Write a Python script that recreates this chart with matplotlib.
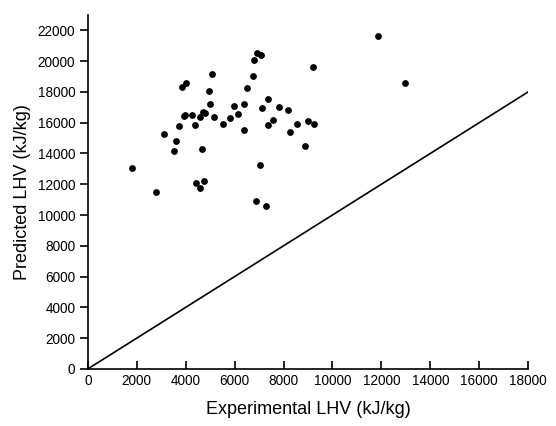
import matplotlib
matplotlib.use("Agg")
import matplotlib.pyplot as plt
import numpy as np

plt.rcParams['font.family'] = ['Liberation Sans', 'DejaVu Sans']

# experimental vs predicted LHV (kJ/kg)
exp_lhv = [1810, 2800, 3120, 3530, 3600, 3740, 3830, 4000, 3910, 3970,
           4270, 4380, 4580, 4420, 4600, 4760, 4680, 4710, 4800, 4950,
           4990, 5070, 5160, 5510, 5800, 5970, 6150, 6380, 6400, 6520,
           6760, 6790, 6900, 7070, 7040, 6870, 7270, 7380, 7110, 7360,
           7570, 7800, 8170, 8250, 8560, 8990, 9260, 8870, 9220, 11870,
           12970]
pred_lhv = [13050, 11510, 15280, 14170, 14800, 15800, 18290, 18600, 16450, 16490,
            16490, 15840, 16360, 12110, 11750, 12180, 14300, 16690, 16630, 18050,
            17230, 19140, 16380, 15910, 16300, 17060, 16560, 17230, 15540, 18270,
            19010, 20090, 20550, 20400, 13220, 10880, 10600, 17540, 16950, 15820,
            16190, 16990, 16820, 15410, 15910, 16080, 15910, 14500, 19640, 21610,
            18600]

# 1:1 line
line_x = [0, 18000]

fig = plt.figure(figsize=(5.56, 4.26), dpi=100)
ax = fig.add_axes([0.158, 0.134, 0.792, 0.831])

ax.scatter(exp_lhv, pred_lhv, s=15, color='black', zorder=3)
ax.plot(line_x, line_x, color='black', lw=1.2)

ax.set_xlim(0, 18000)
ax.set_ylim(0, 23000)
ax.set_xticks(np.arange(0, 18001, 2000))
ax.set_yticks(np.arange(0, 22001, 2000))

ax.spines['top'].set_visible(False)
ax.spines['right'].set_visible(False)
ax.spines['left'].set_linewidth(1.2)
ax.spines['bottom'].set_linewidth(1.2)
ax.tick_params(axis='x', direction='in', length=6, width=1.2, labelsize=9.8, pad=4)
ax.tick_params(axis='y', direction='out', length=6, width=1.2, labelsize=9.8, pad=3)

ax.set_xlabel('Experimental LHV (kJ/kg)', fontsize=13, labelpad=9)
ax.set_ylabel('Predicted LHV (kJ/kg)', fontsize=13, labelpad=5)

fig.savefig('out.png', dpi=100)
